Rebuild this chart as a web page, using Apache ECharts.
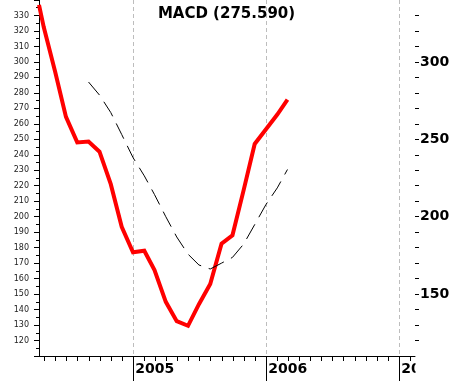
<!DOCTYPE html>
<html><head><meta charset="utf-8">
<script src="https://cdn.jsdelivr.net/npm/echarts@6/dist/echarts.min.js"></script>
<style>html,body{margin:0;padding:0;background:#fff}#c{width:453px;height:381px}</style>
</head><body><div id="c"></div>
<script>
// Axis range (dates) and value range
const axisStart = '2004-04-17';
const axisEnd = '2007-02-13';
const yMin = 110, yMax = 340, yStep = 10;
const leftLabelMin = 120, leftLabelMax = 330;
const rightTickMin = 120, rightTickMax = 330, rightLabelStep = 50;

// MACD line (thick red)
const macdDates = ['2004-04-17','2004-04-30','2004-05-31','2004-06-30','2004-07-31','2004-08-31','2004-09-30','2004-10-31','2004-11-30','2004-12-31',
  '2005-01-31','2005-02-28','2005-03-31','2005-04-30','2005-05-31','2005-06-30','2005-07-31','2005-08-31','2005-09-30','2005-10-31','2005-11-30','2005-12-31',
  '2006-01-31','2006-02-28'];
const macdValues = [336.8,322.5,294,264.5,248,248.5,242,221,193.5,177,
  178,165.5,145,132.5,129.5,143.5,156.5,182.5,188,217.5,247,256.5,
  266,275.59];

// Signal line (dashed black)
const signalDates = ['2004-08-31','2004-09-30','2004-10-31','2004-11-30','2004-12-31',
  '2005-01-31','2005-02-28','2005-03-31','2005-04-30','2005-05-31','2005-06-30','2005-07-31','2005-08-31','2005-09-30','2005-10-31','2005-11-30','2005-12-31',
  '2006-01-31','2006-02-28'];
const signalValues = [287,278.6,267.3,253.1,238.2,
  226.4,214.3,200,186.9,175.8,168.8,166.2,170,173.7,182.4,194.9,207.9,
  218.6,230.5];

function parseD(s){return Date.UTC(+s.slice(0,4), +s.slice(5,7)-1, +s.slice(8,10));}
function dayList(a,b){
  const out=[]; let t=parseD(a); const e=parseD(b);
  while(t<=e){ out.push(new Date(t).toISOString().slice(0,10)); t+=86400000; }
  return out;
}
const days = dayList(axisStart, axisEnd);
const isMonthStart = (i,v)=> v.slice(8)==='01';
const isYearStart = (i,v)=> v.slice(5)==='01-01';

const chart = echarts.init(document.getElementById('c'), null, {renderer:'canvas'});
const option = {
  animation:false,
  backgroundColor:'#ffffff',
  title:{
    text:'MACD (' + macdValues[macdValues.length-1].toFixed(3) + ')',
    left:'center', top:7, padding:0,
    textStyle:{fontFamily:'DejaVu Sans', fontWeight:'bold', fontSize:15, color:'#000'}
  },
  grid:[
    {left:39, right:38, top:0, bottom:25},
    {left:39, right:38, top:15.48, bottom:40.48}
  ],
  xAxis:[
    {type:'category', gridIndex:0, data:days, boundaryGap:false, position:'bottom',
     axisLine:{show:true, lineStyle:{color:'#000', width:1}},
     axisTick:{show:true, interval:isMonthStart, length:5, lineStyle:{color:'#000', width:1}},
     axisLabel:{show:false}, splitLine:{show:false}},
    {type:'category', gridIndex:0, data:days, boundaryGap:false, position:'bottom',
     axisLine:{show:false},
     axisTick:{show:true, interval:isYearStart, length:25, lineStyle:{color:'#000', width:1}},
     axisLabel:{show:true, interval:isYearStart, formatter:v=>v.slice(0,4), align:'left', padding:[0,0,0,2], margin:6,
       fontFamily:'DejaVu Sans', fontWeight:'bold', fontSize:14, color:'#000'},
     splitLine:{show:true, interval:isYearStart, lineStyle:{color:'#bdbdbd', type:[4,3], width:1}}},
    {type:'category', gridIndex:1, data:days, boundaryGap:false, show:false}
  ],
  yAxis:[
    {type:'value', gridIndex:0, min:yMin, max:yMax, interval:yStep,
     axisLine:{show:true, lineStyle:{color:'#000', width:1}},
     axisTick:{show:true, length:5, lineStyle:{color:'#000'}},
     minorTick:{show:true, splitNumber:2, length:3, lineStyle:{color:'#000'}},
     axisLabel:{formatter:v=>(v<leftLabelMin||v>leftLabelMax)?'':String(v), margin:10,
       fontFamily:'DejaVu Sans', fontSize:8, color:'#222'},
     splitLine:{show:false}},
    {type:'value', gridIndex:1, position:'right', min:rightTickMin, max:rightTickMax, interval:yStep,
     axisLine:{show:false},
     axisTick:{show:true, length:4, lineStyle:{color:'#000'}},
     axisLabel:{formatter:v=>(v%rightLabelStep===0)?String(v):'', margin:5,
       fontFamily:'DejaVu Sans', fontWeight:'bold', fontSize:14, color:'#000'},
     splitLine:{show:false}}
  ],
  graphic:[
    {type:'rect', shape:{x:415.5, y:358, width:40, height:23}, style:{fill:'#fff'}, z:100}
  ],
  series:[
    {type:'line', xAxisIndex:0, yAxisIndex:0, data:macdDates.map((d,i)=>[d, macdValues[i]]),
     symbol:'none', clip:true, lineStyle:{color:'#ff0000', width:4, join:'miter'}, z:2},
    {type:'line', xAxisIndex:0, yAxisIndex:0, data:signalDates.map((d,i)=>[d, signalValues[i]]),
     symbol:'none', clip:true, lineStyle:{color:'#000', width:1, type:[17,8]}, z:3}
  ]
};
chart.setOption(option);
</script></body></html>
